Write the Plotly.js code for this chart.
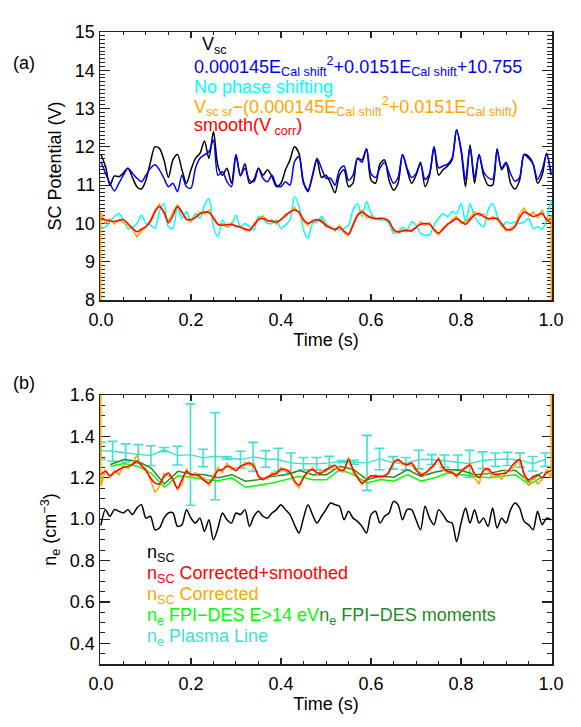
<!DOCTYPE html>
<html>
<head>
<meta charset="utf-8">
<script src="https://cdn.plot.ly/plotly-3.0.1.min.js"></script>
<style>
  body { margin: 0; background: #fff; }
  #chart { width: 581px; height: 727px; }
</style>
</head>
<body>
<div id="chart"></div>
<script>
// ---- panel (a): spacecraft potential, sampled every 10 ms ----
const vscBlack = [11.8, 11.5, 11.0, 11.24, 11.22, 11.32, 11.44, 11.2, 10.96, 10.9,
  11.13, 11.6, 12.0, 11.96, 11.66, 11.2, 11.66, 11.8, 11.4, 11.05,
  11.4, 11.7, 11.83, 12.15, 11.7, 12.4, 11.5, 11.26, 11.44, 11.05,
  11.8, 11.24, 11.56, 11.05, 11.15, 11.44, 11.26, 11.4, 11.22, 10.96,
  11.05, 11.4, 11.66, 12.0, 11.83, 11.05, 10.87, 11.24, 11.66, 11.2,
  11.26, 11.05, 10.8, 11.26, 11.4, 10.96, 11.05, 11.7, 11.66, 11.95,
  11.13, 11.05, 11.56, 11.66, 11.13, 10.87, 11.05, 11.8, 11.4, 11.05,
  11.26, 11.6, 10.96, 11.26, 12.0, 11.26, 11.4, 11.5, 11.66, 12.45,
  11.9, 10.96, 12.05, 11.05, 11.8, 11.26, 11.0, 11.0, 11.95, 11.4,
  11.56, 11.05, 10.9, 11.13, 11.8, 11.75, 11.56, 11.05, 11.26, 11.83, 11.26];

const vscFit = [11.61, 11.31, 11.05, 10.85, 11.05, 11.26, 11.44, 11.31, 11.18, 11.09,
  11.26, 11.44, 11.53, 11.40, 11.18, 10.96, 11.05, 10.83, 11.26, 10.96,
  10.92, 11.44, 11.70, 11.79, 11.87, 12.18, 11.26, 11.35, 11.09, 10.96,
  11.79, 11.26, 11.44, 11.13, 11.09, 11.44, 11.18, 11.09, 11.26, 11.0,
  10.96, 11.09, 11.0, 11.61, 11.75, 11.09, 10.83, 11.26, 11.70, 11.44,
  11.18, 11.18, 11.0, 11.4, 11.5, 11.13, 11.26, 11.7, 11.6, 11.95,
  11.3, 11.2, 11.45, 11.6, 11.3, 11.05, 11.2, 11.8, 11.45, 11.2,
  11.3, 11.55, 11.15, 11.3, 12.0, 11.45, 11.5, 11.55, 11.7, 12.45,
  11.95, 11.15, 12.0, 11.2, 11.8, 11.35, 11.2, 11.15, 11.9, 11.45,
  11.6, 11.3, 11.1, 11.2, 11.8, 11.7, 11.55, 11.15, 11.4, 11.8, 11.3];

const vscNoShift = [9.87, 9.91, 10.04, 10.18, 10.26, 10.09, 9.87, 9.9, 10.0, 10.22,
  10.0, 9.96, 9.87, 10.31, 10.52, 9.91, 9.87, 10.44, 10.13, 10.31,
  10.04, 10.26, 10.13, 10.48, 10.65, 9.91, 9.65, 10.09, 9.91, 9.96,
  10.22, 9.91, 10.0, 9.91, 9.83, 10.18, 10.13, 10.0, 10.0, 10.09,
  9.87, 9.96, 10.09, 10.7, 10.44, 9.83, 9.61, 10.0, 10.04, 10.18,
  10.0, 9.91, 9.87, 9.83, 9.87, 9.96, 10.35, 10.52, 10.18, 10.57,
  10.26, 10.13, 10.09, 10.09, 10.0, 9.74, 9.78, 9.91, 9.83, 10.04,
  9.96, 9.74, 9.7, 9.7, 9.96, 10.13, 10.26, 10.18, 10.31, 10.26,
  10.52, 10.04, 10.52, 10.18, 10.0, 9.91, 10.35, 10.52, 10.22, 9.91,
  10.04, 10.0, 10.04, 10.0, 10.04, 10.13, 9.87, 9.91, 9.85, 10.09, 10.61];

// first and last samples fall far below the axis (edge effect of the correction)
const vscCorr = [7.0,
  10.3, 10.0, 10.12, 9.98, 10.1, 10.02, 9.95, 9.85, 9.65, 9.8,
  9.9, 10.1, 10.35, 10.5, 10.25, 10.05, 10.3, 10.48, 10.25, 10.15,
  10.05, 10.2, 10.3, 10.25, 10.35, 10.1, 9.95, 10.0, 9.9, 10.02,
  9.9, 9.93, 9.82, 9.8, 10.0, 10.12, 10.2, 10.05, 10.1, 9.98,
  10.12, 10.25, 10.28, 10.42, 10.25, 10.05, 9.95, 10.1, 10.05, 10.12,
  9.9, 9.92, 9.8, 9.95, 9.75, 9.68, 10.0, 10.25, 10.35, 10.15,
  10.2, 10.1, 10.15, 10.1, 10.08, 9.8, 9.75, 9.85, 9.78, 9.85,
  9.88, 10.05, 9.95, 10.02, 9.8, 9.7, 9.9, 9.95, 10.1, 10.18,
  10.0, 10.05, 10.15, 10.3, 10.2, 10.25, 10.08, 10.18, 10.1, 9.95,
  9.8, 9.88, 9.95, 10.25, 10.4, 10.2, 10.3, 10.15, 10.35, 10.05, 10.2,
  7.0];

const vscSmooth = [10.13, 10.1, 10.06, 10.05, 10.08, 10.1, 10.0, 9.88, 9.78, 9.85,
  9.92, 10.05, 10.3, 10.44, 10.3, 10.02, 10.2, 10.44, 10.3, 10.1,
  10.1, 10.15, 10.25, 10.3, 10.28, 10.15, 9.98, 9.95, 9.97, 9.97,
  9.94, 9.9, 9.86, 9.83, 9.95, 10.1, 10.13, 10.08, 10.05, 10.04,
  10.1, 10.2, 10.3, 10.35, 10.3, 10.1, 10.0, 10.05, 10.1, 10.05,
  9.95, 9.88, 9.84, 9.9, 9.8, 9.72, 9.95, 10.2, 10.3, 10.22,
  10.15, 10.13, 10.13, 10.13, 10.05, 9.85, 9.78, 9.8, 9.82, 9.8,
  9.9, 9.98, 10.0, 9.98, 9.85, 9.75, 9.85, 9.98, 10.05, 10.13,
  10.05, 9.98, 10.1, 10.22, 10.26, 10.18, 10.13, 10.13, 10.13, 10.0,
  9.85, 9.83, 9.92, 10.15, 10.3, 10.25, 10.18, 10.22, 10.26, 10.1, 10.0];

// ---- panel (b): densities ----
const nscRaw = [0.97, 1.046, 1.014, 1.046, 1.038, 1.03, 1.046, 1.022, 1.054, 1.07,
  1.005, 1.014, 0.949, 0.957, 1.005, 1.03, 1.03, 0.965, 0.973, 1.046,
  1.005, 0.981, 1.005, 0.941, 0.997, 0.90, 0.957, 1.03, 0.997, 0.981,
  1.03, 1.022, 1.046, 0.965, 1.014, 1.038, 1.014, 1.005, 1.03, 1.046,
  1.07, 1.046, 1.022, 0.973, 0.933, 1.005, 1.07, 1.022, 0.981, 1.014,
  1.046, 1.078, 1.07, 1.062, 0.997, 1.038, 1.005, 0.989, 0.965, 0.933,
  1.022, 1.038, 0.981, 1.014, 1.03, 1.086, 1.07, 0.997, 1.046, 1.046,
  0.997, 0.949, 1.062, 1.005, 0.973, 1.046, 1.022, 0.989, 0.981, 0.892,
  0.981, 1.054, 0.981, 1.046, 0.981, 1.005, 0.965, 1.054, 0.957, 1.005,
  0.981, 1.046, 1.078, 1.054, 0.989, 0.973, 0.949, 1.038, 0.973, 1.005, 0.997];

const nscSmooth = [1.215, 1.231, 1.21, 1.225, 1.24, 1.25, 1.255, 1.264, 1.28, 1.26,
  1.235, 1.2, 1.175, 1.17, 1.205, 1.223, 1.19, 1.15, 1.19, 1.231,
  1.215, 1.215, 1.207, 1.185, 1.175, 1.199, 1.235, 1.24, 1.256, 1.25,
  1.235, 1.256, 1.264, 1.272, 1.255, 1.21, 1.19, 1.205, 1.215, 1.223,
  1.24, 1.24, 1.225, 1.185, 1.165, 1.2, 1.231, 1.24, 1.225, 1.223,
  1.24, 1.25, 1.26, 1.235, 1.24, 1.288, 1.24, 1.2, 1.175, 1.19,
  1.21, 1.207, 1.207, 1.207, 1.23, 1.272, 1.288, 1.272, 1.262, 1.272,
  1.24, 1.215, 1.223, 1.24, 1.264, 1.288, 1.25, 1.231, 1.225, 1.21,
  1.23, 1.25, 1.26, 1.22, 1.2, 1.235, 1.245, 1.22, 1.215, 1.22,
  1.223, 1.248, 1.275, 1.288, 1.22, 1.19, 1.205, 1.215, 1.2, 1.225, 1.235];

// edge samples run off the top of the panel
const nscCorr = [2.0,
  1.16, 1.24, 1.2, 1.235, 1.215, 1.26, 1.245, 1.27, 1.31, 1.25, 1.245,
  1.19, 1.13, 1.155, 1.22, 1.21, 1.2, 1.14, 1.17, 1.245, 1.2,
  1.225, 1.195, 1.2, 1.16, 1.21, 1.25, 1.225, 1.27, 1.24, 1.25,
  1.245, 1.275, 1.26, 1.27, 1.2, 1.2, 1.195, 1.225, 1.21, 1.25,
  1.23, 1.235, 1.175, 1.15, 1.21, 1.22, 1.25, 1.215, 1.235, 1.23,
  1.26, 1.245, 1.25, 1.225, 1.3, 1.225, 1.21, 1.165, 1.2, 1.2,
  1.215, 1.2, 1.215, 1.22, 1.28, 1.28, 1.265, 1.27, 1.26, 1.235,
  1.225, 1.215, 1.25, 1.255, 1.3, 1.24, 1.225, 1.235, 1.2, 1.24,
  1.24, 1.275, 1.2, 1.17, 1.25, 1.235, 1.2, 1.225, 1.19, 1.235,
  1.23, 1.26, 1.29, 1.21, 1.16, 1.21, 1.17, 1.19, 1.24, 1.2,
  2.0];

// FPI-DES, 30 ms cadence
const fpiTime = [0.021, 0.051, 0.081, 0.111, 0.141, 0.171, 0.201, 0.231, 0.261, 0.291,
  0.321, 0.351, 0.381, 0.411, 0.441, 0.471, 0.501, 0.531, 0.561, 0.591,
  0.621, 0.651, 0.681, 0.711, 0.741, 0.771, 0.801, 0.831, 0.861, 0.891,
  0.921, 0.951, 0.981];
const fpiHot = [1.256, 1.269, 1.256, 1.223, 1.154, 1.21, 1.202, 1.191, 1.186, 1.2,
  1.154, 1.164, 1.175, 1.191, 1.207, 1.191, 1.19, 1.24, 1.215, 1.175,
  1.191, 1.183, 1.215, 1.183, 1.2, 1.223, 1.215, 1.207, 1.2, 1.207,
  1.215, 1.167, 1.205];
const fpiMoments = [1.264, 1.288, 1.28, 1.248, 1.17, 1.231, 1.218, 1.215, 1.2, 1.215,
  1.183, 1.191, 1.207, 1.215, 1.235, 1.215, 1.215, 1.256, 1.24, 1.191,
  1.207, 1.203, 1.24, 1.207, 1.227, 1.24, 1.235, 1.215, 1.22, 1.235,
  1.235, 1.18, 1.228];

// plasma line density with error bars
const plTime = [0.0, 0.026, 0.055, 0.083, 0.111, 0.140, 0.170, 0.199, 0.227, 0.254,
  0.280, 0.310, 0.338, 0.366, 0.394, 0.422, 0.450, 0.479, 0.507, 0.535,
  0.562, 0.591, 0.619, 0.649, 0.677, 0.706, 0.735, 0.763, 0.793, 0.819,
  0.848, 0.876, 0.903, 0.931, 0.959, 0.987];
const plDens = [1.331, 1.328, 1.32, 1.315, 1.307, 1.336, 1.307, 1.312, 1.296, 1.304,
  1.296, 1.288, 1.301, 1.291, 1.288, 1.272, 1.268, 1.268, 1.272, 1.278,
  1.275, 1.272, 1.291, 1.272, 1.268, 1.288, 1.288, 1.28, 1.275, 1.268,
  1.285, 1.288, 1.291, 1.285, 1.268, 1.288];
const plErr = [0.042, 0.048, 0.044, 0.045, 0.048, 0.01, 0.045, 0.245, 0.042, 0.21,
  0.007, 0.04, 0.07, 0.04, 0.055, 0.048, 0.03, 0.03, 0.032, 0.005,
  0.01, 0.133, 0.052, 0.03, 0.03, 0.045, 0.024, 0.03, 0.035, 0.065,
  0.04, 0.032, 0.032, 0.034, 0.035, 0.032];

// uniform time base for evenly sampled series
function timeBase(arr) {
    return arr.map((_, i) => i / (arr.length - 1));
}
// same, but first and last sample sit exactly on the edges (vertical run-off)
function edgeTimeBase(arr) {
    const inner = timeBase(arr.slice(1, -1));
    return [0, ...inner, 1];
}

const FONT = 'Liberation Sans, Arial, Helvetica, sans-serif';
const CYAN = '#00FFFF';
const TURQ = '#40E0D0';
const ORANGE = '#FFA500';
const LIME = '#00FF00';
const DKGREEN = '#228B22';

function line(x, y, color, xa, ya, shape) {
    return {
        x: x, y: y, type: 'scatter', mode: 'lines',
        line: { color: color, width: 1.5, shape: shape || 'linear', smoothing: 0.8 },
        xaxis: xa, yaxis: ya, hoverinfo: 'skip'
    };
}

const traces = [
    line(timeBase(vscBlack), vscBlack, '#000000', 'x', 'y', 'spline'),
    line(timeBase(vscFit), vscFit, '#0000FF', 'x', 'y', 'spline'),
    line(timeBase(vscNoShift), vscNoShift, CYAN, 'x', 'y', 'spline'),
    line(edgeTimeBase(vscCorr), vscCorr, ORANGE, 'x', 'y'),
    line(timeBase(vscSmooth), vscSmooth, '#FF0000', 'x', 'y', 'spline'),

    line(timeBase(nscRaw), nscRaw, '#000000', 'x2', 'y2', 'spline'),
    {
        x: plTime, y: plDens, type: 'scatter', mode: 'lines',
        line: { color: TURQ, width: 1.4 },
        error_y: { type: 'data', array: plErr, visible: true, color: TURQ, thickness: 1.6, width: 5 },
        xaxis: 'x2', yaxis: 'y2', hoverinfo: 'skip'
    },
    line(fpiTime, fpiMoments, DKGREEN, 'x2', 'y2'),
    line(fpiTime, fpiHot, LIME, 'x2', 'y2'),
    line(edgeTimeBase(nscCorr), nscCorr, ORANGE, 'x2', 'y2'),
    line(timeBase(nscSmooth), nscSmooth, '#FF0000', 'x2', 'y2', 'spline')
];

// shared axis look (IDL style box with inward ticks on all sides)
const axisBase = {
    showline: true, linecolor: '#222', linewidth: 1.5, mirror: 'allticks',
    ticks: 'inside', tickcolor: '#222', tickwidth: 1.2,
    showgrid: false, zeroline: false, layer: 'below traces',
    tickfont: { family: FONT, size: 18, color: '#000' }
};
// a hair of padding so the run-off at t=0 and t=1 shows just inside the frame
const xBase = Object.assign({}, axisBase, {
    range: [-0.002, 1.002], tick0: 0, dtick: 0.2, tickformat: '.1f', ticklen: 6,
    ticklabelstandoff: 3,
    minor: { dtick: 0.05, ticklen: 3, ticks: 'inside', tickcolor: '#222', tickwidth: 1 },
    title: { text: 'Time (s)', font: { family: FONT, size: 18 }, standoff: 2 }
});

// plot area: 100..552 px wide, 32..664 px tall
const PW = 452, PH = 632, PL = 100, PB = 664;
const px = v => (v - PL) / PW;
const py = v => (PB - v) / PH;

function note(text, x, y, color, anchor) {
    return {
        text: text, xref: 'paper', yref: 'paper', x: px(x), y: py(y),
        xanchor: anchor || 'left', yanchor: 'middle', showarrow: false,
        font: { family: FONT, size: 18, color: color }
    };
}

const annotations = [
    note('(a)', 24, 63, '#000', 'center'),
    note('V<sub>sc</sub>', 200, 45, '#000'),
    note('0.000145E<sub>Cal shift</sub><sup>2</sup>+0.0151E<sub>Cal shift</sub>+10.755', 192, 67, '#0000FF'),
    note('No phase shifting', 192, 87, CYAN),
    note('V<sub>sc sr</sub>\u2212(0.000145E<sub>Cal shift</sub><sup>2</sup>+0.0151E<sub>Cal shift</sub>)', 192, 107, ORANGE),
    note('smooth(V<sub> corr</sub>)', 192, 126, '#FF0000'),

    note('(b)', 24, 383, '#000', 'center'),
    note('n<sub>SC</sub>', 145, 553, '#000'),
    note('n<sub>SC</sub> Corrected+smoothed', 145, 574, '#FF0000'),
    note('n<sub>SC</sub> Corrected', 145, 595, ORANGE),
    note('<span style="color:' + LIME + '">n<sub>e</sub> FPI\u2212DES E&gt;14 eV</span>' +
         '<span style="color:' + DKGREEN + '">n<sub>e</sub> FPI\u2212DES moments</span>', 145, 616, LIME),
    note('n<sub>e</sub> Plasma Line', 145, 637, TURQ)
];

const layout = {
    width: 581, height: 727,
    margin: { l: PL, r: 581 - PL - PW, t: 32, b: 727 - PB },
    paper_bgcolor: '#fff', plot_bgcolor: '#fff',
    showlegend: false,
    font: { family: FONT, size: 18, color: '#000' },
    xaxis: Object.assign({}, xBase, { domain: [0, 1], anchor: 'y' }),
    yaxis: Object.assign({}, axisBase, {
        domain: [py(300), 1], anchor: 'x', range: [8, 15], dtick: 1, ticklen: 10,
        minor: { dtick: 0.1, ticklen: 5, ticks: 'inside', tickcolor: '#222', tickwidth: 1 },
        title: { text: 'SC Potential (V)', font: { family: FONT, size: 18 }, standoff: 8 }
    }),
    xaxis2: Object.assign({}, xBase, { domain: [0, 1], anchor: 'y2' }),
    yaxis2: Object.assign({}, axisBase, {
        domain: [0, py(395)], anchor: 'x2', range: [0.3, 1.6], tick0: 0.4, dtick: 0.2,
        tickformat: '.1f', ticklen: 10,
        minor: { dtick: 0.05, ticklen: 5, ticks: 'inside', tickcolor: '#222', tickwidth: 1 },
        title: { text: 'n<sub>e</sub> (cm<sup>\u22123</sup>)', font: { family: FONT, size: 18 }, standoff: 8 }
    }),
    annotations: annotations
};

Plotly.newPlot('chart', traces, layout, { displayModeBar: false, staticPlot: true });
</script>
</body>
</html>
